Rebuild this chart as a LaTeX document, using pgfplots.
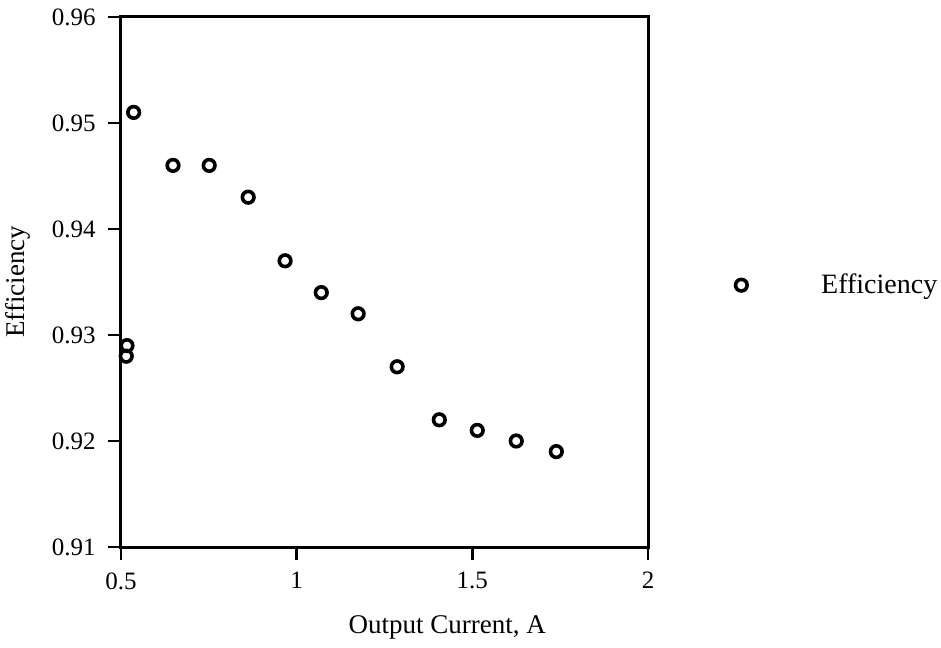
\documentclass[border=0pt]{standalone}
\usepackage{fontspec}
\setmainfont{Liberation Serif}
\usepackage{pgfplots}
\pgfplotsset{compat=1.18}
\begin{document}
\fontsize{13.5}{16}\selectfont
\begin{tikzpicture}
\begin{axis}[
    name=ax,
    scale only axis,
    width=263.5pt, height=265pt,
    xmin=0.5, xmax=2, ymin=0.91, ymax=0.96,
    xtick={0.5,1,1.5,2},
    ytick={0.91,0.92,0.93,0.94,0.95,0.96},
    /pgf/number format/assume math mode=true,
    tick label style={font=\fontsize{12.5}{14}\selectfont},
    yticklabel style={xshift=-1.5pt,/pgf/number format/.cd,fixed,fixed zerofill,precision=2},
    xticklabel style={yshift=-1.5pt},
    tick align=outside, xtick pos=left, ytick pos=left,
    major tick length=6.5pt,
    axis line style={line width=1.5pt},
    every tick/.style={black,line width=1.3pt},
    xlabel={Output Current, A},
    ylabel={Efficiency},
    xlabel style={at={(axis description cs:0.619,-0.151)},anchor=center},
    ylabel style={at={(axis description cs:-0.195,0.5)},anchor=center},
    legend style={draw=none, fill=none, at={(axis description cs:1.154,0.494)}, anchor=west,
        legend cell align=left, font=\fontsize{14}{16}\selectfont},
    legend image code/.code={\path[#1] plot coordinates {(0pt,0pt)};},
]
\addplot[only marks, mark=o, mark size=2.9pt, mark options={line width=1.8pt}, black] coordinates {
    (0.515,0.928) (0.517,0.929) (0.536,0.951) (0.648,0.946) (0.751,0.946)
    (0.862,0.943) (0.967,0.937) (1.070,0.934) (1.175,0.932) (1.286,0.927)
    (1.406,0.922) (1.514,0.921) (1.625,0.920) (1.739,0.919)
};
\addlegendentry{\hspace{35pt}Efficiency}
\end{axis}
\pgfresetboundingbox
\path[use as bounding box] ([xshift=-60.5pt,yshift=-50pt]ax.south west) rectangle ([xshift=146.5pt,yshift=8.5pt]ax.north east);
\end{tikzpicture}
\end{document}
